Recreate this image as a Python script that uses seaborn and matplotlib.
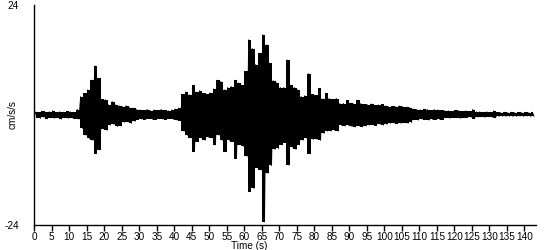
import numpy as np
import pandas as pd
import matplotlib
matplotlib.use("Agg")
import matplotlib.pyplot as plt
import seaborn as sns

# Per-second positive / negative peak accelerations (cm/s/s)
peak_up = [0.7, 0.6, 0.8, 0.6, 0.7, 0.9, 0.6, 0.7, 0.6, 0.8, 0.7, 0.6,
           1.2, 4.0, 4.7, 5.5, 7.6, 10.7, 8.0, 3.4, 3.3, 2.2, 2.9, 2.2, 2.0, 1.8,
           2.0, 1.6, 1.5, 1.2,
           1.1, 1.0, 1.2, 0.9, 1.1, 1.0, 1.2, 1.0, 0.9, 1.1,
           1.3, 1.5, 4.5, 5.0, 4.4, 6.5, 5.0, 5.3, 4.7, 4.5, 4.8, 5.7, 7.6, 7.3,
           5.5, 6.0, 6.2, 7.6, 7.0, 6.5, 9.5, 16.4, 14.5, 11.0, 13.5, 17.5, 15.3,
           11.3, 7.5, 7.0, 6.0, 6.0, 12.0, 6.5, 6.0, 5.5, 4.0, 4.2, 9.0, 4.5, 4.3,
           5.8, 3.5, 4.7, 3.6, 3.4, 3.6, 2.5, 2.5, 3.2, 2.6, 2.4, 3.2, 2.5, 2.3,
           2.2, 2.4, 2.1, 2.2, 2.3, 2.0, 1.8, 1.9, 1.8, 2.0, 1.8, 1.7, 1.6,
           1.3, 1.2, 1.1, 1.3, 1.2, 1.0, 1.2, 1.1, 1.0,
           0.9, 0.9, 0.8, 1.0, 0.9, 0.8, 0.9, 0.8, 1.2,
           0.7, 0.7, 0.6, 0.7, 0.6, 0.9,
           0.6, 0.5, 0.6, 0.5, 0.6, 0.5, 0.6, 0.5, 0.6, 0.5, 0.6]
peak_down = [-0.6, -0.7, -0.5, -0.8, -0.6, -0.7, -0.6, -0.9, -0.6, -0.7, -0.6, -0.8,
             -0.9, -2.9, -4.4, -5.1, -5.5, -8.4, -7.6, -3.0, -3.3, -2.2, -2.0, -2.5,
             -2.4, -1.6, -1.5, -1.8, -1.4, -1.0,
             -0.9, -1.0, -0.8, -0.9, -1.0, -0.8, -0.9, -1.0, -0.8, -0.9,
             -1.1, -1.2, -3.5, -4.4, -5.0, -8.0, -5.8, -5.0, -5.5, -4.8, -5.0, -6.5,
             -4.4, -5.5, -8.0, -5.5, -5.8, -9.5, -6.5, -6.8, -9.0, -16.7, -16.0,
             -11.5, -12.0, -23.3, -12.7, -11.0, -7.5, -7.3, -6.5, -6.0, -10.9, -7.0,
             -7.5, -6.5, -5.5, -5.0, -8.4, -5.3, -5.3, -5.5, -4.0, -3.5, -3.5, -3.3,
             -3.5, -2.2, -2.4, -2.2, -2.5, -2.6, -2.4, -2.6, -2.4,
             -2.2, -2.1, -2.3, -2.0, -2.2, -2.0,
             -1.8, -1.7, -1.9, -1.8, -1.7, -1.8, -1.6,
             -1.0, -1.1, -0.9, -1.0, -1.1, -0.9, -1.0, -0.9, -1.0,
             -0.6, -0.7, -0.6, -0.6, -0.7, -0.6, -0.6, -0.5, -0.8,
             -0.45, -0.4, -0.5, -0.4, -0.45, -0.6,
             -0.3, -0.25, -0.3, -0.25, -0.3, -0.3, -0.25, -0.3, -0.25, -0.3, -0.3]
sec_start = list(range(len(peak_up)))
x_ticks = list(range(0, 141, 5))
y_ticks = [-24, 24]

assert len(peak_up) == len(peak_down) == len(sec_start)

# Trace: each second holds its positive peak then its negative peak
times, values = [], []
for s, u, d in zip(sec_start, peak_up, peak_down):
    times += [s + 0.25, s + 0.75]
    values += [u, d]
df = pd.DataFrame({"Time (s)": times, "acc": values})
env = pd.DataFrame({"t": [s + 0.5 for s in sec_start], "up": peak_up, "down": peak_down})

sns.set_theme(style="white")
plt.rcParams["font.family"] = ["Liberation Sans", "DejaVu Sans"]

fig = plt.figure(figsize=(5.5, 2.5), dpi=100)
ax = fig.add_axes([34.3 / 550, 0.10, (536 - 34.3) / 550, 0.88])
ax.fill_between(env["t"], env["up"], env["down"], step="mid",
                color="black", linewidth=0)
sns.lineplot(data=df, x="Time (s)", y="acc", ax=ax, color="black",
             linewidth=0.7, sort=False, estimator=None)

ax.set_xlim(0, 143.3)
ax.set_ylim(-24, 24)
ax.set_xticks(x_ticks)
ax.set_xticklabels([str(v) for v in x_ticks])
ax.set_yticks(y_ticks)
ax.set_yticklabels([str(v) for v in y_ticks])
ax.tick_params(axis="x", direction="out", length=4, width=1, color="black",
               labelsize=7.2, pad=1.0, labelcolor="black", bottom=True)
ax.tick_params(axis="y", length=0, labelsize=7.2, pad=11, labelcolor="black")

for side in ["top", "right"]:
    ax.spines[side].set_visible(False)
for side in ["left", "bottom"]:
    ax.spines[side].set_color("black")
    ax.spines[side].set_linewidth(1)

ax.set_xlabel("Time (s)", fontsize=7.2, color="black", va="top")
ax.xaxis.set_label_coords(0.428, -0.073)
ax.set_ylabel("cm/s/s", fontsize=7.2, color="black")
ax.yaxis.set_label_coords(-0.034, 0.5)

fig.savefig("out.png", dpi=100, facecolor="white")
